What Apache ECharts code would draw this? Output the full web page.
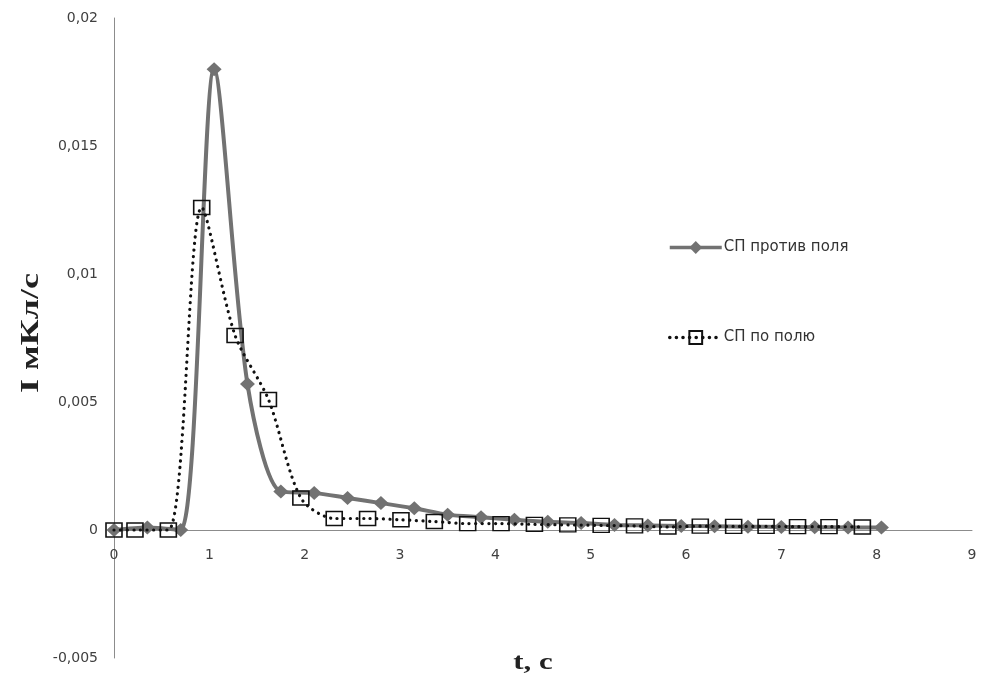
<!DOCTYPE html>
<html>
<head>
<meta charset="utf-8">
<script src="https://cdn.jsdelivr.net/npm/echarts@6/dist/echarts.min.js"></script>
<style>html,body{margin:0;padding:0;background:#fff;}#c{width:981px;height:682px;}</style>
</head>
<body>
<div id="c"></div>
<script>
// Series 1: СП против поля
const t1 = [0, 0.35, 0.7, 1.05, 1.4, 1.75, 2.1, 2.45, 2.8, 3.15, 3.5, 3.85, 4.2, 4.55, 4.9, 5.25, 5.6, 5.95, 6.3, 6.65, 7.0, 7.35, 7.7, 8.05];
const v1 = [0, 0.0001, 0, 0.018, 0.0057, 0.0015, 0.00145, 0.00125, 0.00105, 0.00085, 0.0006, 0.0005, 0.0004, 0.00032, 0.00027, 0.0002, 0.00018, 0.00016, 0.00015, 0.00013, 0.00012, 0.00011, 0.0001, 0.0001];
// Series 2: СП по полю
const t2 = [0, 0.22, 0.57, 0.92, 1.27, 1.62, 1.96, 2.31, 2.66, 3.01, 3.36, 3.71, 4.06, 4.41, 4.76, 5.11, 5.46, 5.81, 6.15, 6.5, 6.84, 7.17, 7.5, 7.85];
const v2 = [0, 0, 0, 0.0126, 0.0076, 0.0051, 0.00125, 0.00045, 0.00045, 0.0004, 0.00033, 0.00025, 0.00025, 0.00022, 0.0002, 0.00018, 0.00016, 0.00012, 0.00015, 0.00014, 0.00014, 0.00013, 0.00013, 0.00012];
const seriesNames = ['СП против поля', 'СП по полю'];
const xTitle = 't, c';
const yTitle = 'I мКл/с';

const chart = echarts.init(document.getElementById('c'), null, {renderer: 'canvas'});
const fmtY = v => {
  const r = Math.round(v * 1000) / 1000;
  return String(r).replace('.', ',');
};
const labelFont = {color: '#404040', fontFamily: 'DejaVu Sans', fontSize: 14};
chart.setOption({
  animation: false,
  backgroundColor: '#ffffff',
  grid: {left: 114, right: 9, top: 18, bottom: 24, containLabel: false, outerBoundsMode: 'none'},
  xAxis: {
    type: 'value', min: 0, max: 9, interval: 1,
    offset: -128,
    axisLine: {onZero: false, lineStyle: {color: '#8c8c8c', width: 1}},
    axisTick: {show: false},
    splitLine: {show: false},
    axisLabel: Object.assign({margin: 18}, labelFont)
  },
  yAxis: {
    type: 'value', min: -0.005, max: 0.02, interval: 0.005,
    axisLine: {show: true, lineStyle: {color: '#8c8c8c', width: 1}},
    axisTick: {show: false},
    splitLine: {show: false},
    axisLabel: Object.assign({margin: 16, formatter: fmtY}, labelFont)
  },
  legend: {
    orient: 'vertical', left: 663, top: 235, itemGap: 75, itemWidth: 52, itemHeight: 16,
    lineStyle: {width: 3.5},
    textStyle: {color: '#333', fontFamily: 'DejaVu Sans', fontSize: 15, padding: [0, 0, 0, -3]},
    data: seriesNames
  },
  graphic: [
    {type: 'text', x: 31, y: 333, rotation: Math.PI / 2, scaleX: 1.5, scaleY: 1.05,
     style: {text: yTitle, font: 'bold 24px "Liberation Serif"', fill: '#222', textAlign: 'center', textVerticalAlign: 'middle'}},
    {type: 'text', x: 533, y: 663, scaleX: 1.4, scaleY: 1.05,
     style: {text: xTitle, font: 'bold 22px "Liberation Serif"', fill: '#222', textAlign: 'center', textVerticalAlign: 'middle'}}
  ],
  series: [
    {
      name: seriesNames[0], type: 'line', smooth: 0.28,
      data: t1.map((t, i) => [t, v1[i]]),
      symbol: 'diamond', symbolSize: [15, 14],
      itemStyle: {color: '#727272'},
      lineStyle: {color: '#727272', width: 4},
      z: 2
    },
    {
      name: seriesNames[1], type: 'line', smooth: 0.28,
      data: t2.map((t, i) => [t, v2[i]]),
      symbol: 'rect', symbolSize: [16, 14],
      itemStyle: {color: 'rgba(0,0,0,0)', borderColor: '#111', borderWidth: 1.5},
      lineStyle: {color: '#111', width: 3.2, type: [0.1, 6.5], cap: 'round'},
      z: 3
    }
  ]
});
</script>
</body>
</html>
